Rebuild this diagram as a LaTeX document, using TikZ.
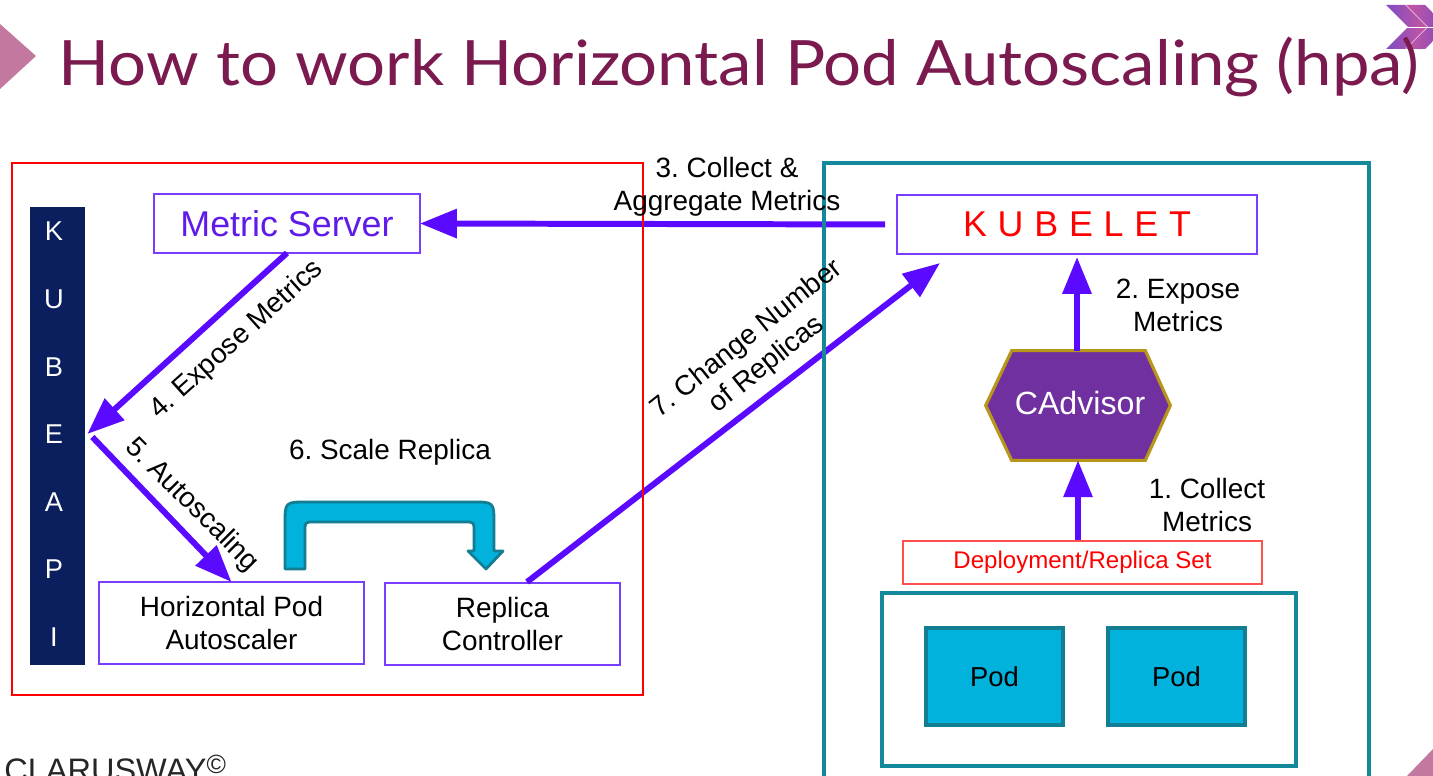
\documentclass[tikz,border=0pt]{standalone}
\usepackage{fontspec}
\setmainfont{Liberation Sans}
\newfontfamily\titlefont{Lato}
\usetikzlibrary{arrows.meta,calc}
\definecolor{titlec}{HTML}{7A1A4E}
\definecolor{pinkc}{HTML}{C2789F}
\definecolor{arrowc}{HTML}{5A0BFF}
\definecolor{boxc}{HTML}{7A3CFF}
\definecolor{mstext}{HTML}{5E1BEA}
\definecolor{tealc}{HTML}{15899C}
\definecolor{navyc}{HTML}{0B1F5E}
\definecolor{hexfill}{HTML}{7030A0}
\definecolor{hexdraw}{HTML}{B8961A}
\definecolor{podfill}{HTML}{00B2DC}
\definecolor{poddraw}{HTML}{137E92}
\definecolor{deplc}{HTML}{FF5050}
\definecolor{chevA}{HTML}{7E4CC4}
\definecolor{chevB}{HTML}{C8569E}
\frenchspacing
\tikzset{
  flow/.style={arrowc, line width=3.4pt, -{Triangle[length=21pt,width=16pt]}},
  boxp/.style={draw=boxc, line width=1.1pt, inner sep=0pt, outer sep=0pt, align=center},
  lbl/.style={font=\fontsize{15.9}{18.7}\selectfont, align=center, inner sep=0pt, text=black},
  apil/.style={text=white, font=\fontsize{15.5}{16}\selectfont, inner sep=0pt},
}
\begin{document}
\begin{tikzpicture}[x=0.02cm,y=-0.02cm]
\useasboundingbox (0,0) rectangle (1433,776);
\clip (0,0) rectangle (1433,776);
\fill[white] (0,0) rectangle (1433,776);

% decorations
\fill[pinkc] (0,24) -- (36,56) -- (0,89) -- cycle;
\fill[pinkc] (1407,776) -- (1433,749) -- (1433,776) -- cycle;
\shade[left color=chevA, right color=chevB] (1386,5) -- (1405,5) -- (1427,27) -- (1405,49) -- (1386,49) -- (1408,27) -- cycle;
\shade[left color=chevB, right color=chevA] (1406,5) -- (1425,5) -- (1447,27) -- (1425,49) -- (1406,49) -- (1428,27) -- cycle;
\draw[white, line width=0.6pt] (1392,27.5) -- (1433,27.5);

% title
\node[anchor=base west, inner sep=0pt, xscale=1.073, text=titlec, font=\titlefont\fontsize{35.6}{40}\selectfont] (title) at (58,86) {How to work Horizontal Pod Autoscaling (hpa)};
\node[anchor=base west, inner sep=0pt, text=black!85, font=\fontsize{18.5}{20}\selectfont] (brand) at (4,781) {CLARUSWAY\raisebox{0.22em}{\fontsize{15}{16}\selectfont ©}};

% left side
\node[fill=navyc, minimum width=1.1cm, minimum height=9.16cm, inner sep=0pt] (api) at (57.5,436) {};
\foreach \l/\yy [count=\i] in {K/231,U/299,B/367,E/434,A/502,P/569,I/637}
  \node[apil] (api\i) at (54,\yy) {\l};

\node[boxp, minimum width=5.32cm, minimum height=1.18cm, text=mstext, font=\fontsize{20.4}{22}\selectfont] (ms) at (287,223.5) {Metric Server};
\node[boxp, minimum width=5.3cm, minimum height=1.64cm, font=\fontsize{15.9}{18.7}\selectfont] (hpa) at (231.5,623) {Horizontal Pod\\Autoscaler};
\node[boxp, minimum width=4.7cm, minimum height=1.64cm, font=\fontsize{15.9}{18.7}\selectfont] (rc) at (502.5,624) {Replica\\Controller};

% right side
\node[boxp, minimum width=7.2cm, minimum height=1.18cm, text=red, font=\fontsize{20.4}{22}\selectfont\addfontfeature{LetterSpace=30}] (kub) at (1077,224.5) {KUBELET};
\node[inner sep=0pt, minimum width=3.68cm, minimum height=2.18cm] (cad) at (1078,405.5) {};
\draw[hexdraw, fill=hexfill, line width=1.8pt] (cad.west) -- ($(cad.north west)+(26,0)$) -- ($(cad.north east)+(-25,0)$) -- (cad.east) -- ($(cad.south east)+(-25,0)$) -- ($(cad.south west)+(26,0)$) -- cycle;
\node[text=white, font=\fontsize{18.3}{20}\selectfont, inner sep=0pt] (cadt) at (1080,403) {CAdvisor};
\node[draw=deplc, line width=0.9pt, minimum width=7.18cm, minimum height=0.86cm, inner sep=0pt, text=red, font=\fontsize{13.7}{15}\selectfont] (dep) at (1082.5,562.5) {Deployment/Replica Set};
\node[draw=tealc, line width=2.2pt, minimum width=8.28cm, minimum height=3.46cm, inner sep=0pt] (pods) at (1089,679.5) {};
\node[draw=poddraw, fill=podfill, line width=1.8pt, minimum width=2.74cm, minimum height=1.94cm, inner sep=0pt, font=\fontsize{15.6}{17}\selectfont] (pod1) at (994.5,676.5) {\raisebox{-0.2em}{Pod}};
\node[draw=poddraw, fill=podfill, line width=1.8pt, minimum width=2.74cm, minimum height=1.94cm, inner sep=0pt, font=\fontsize{15.6}{17}\selectfont] (pod2) at (1176.5,676.5) {Pod};

% U-turn arrow (6)
\draw[poddraw, fill=podfill, line width=1.6pt, line join=round]
  (285,569) -- (285,524) .. controls (285,502) .. (307,502) -- (472,502) .. controls (494,502) .. (494,524)
  -- (494,551) -- (503,551) -- (486,569) -- (468,551) -- (474,551) -- (474,531) .. controls (474,522) .. (465,522)
  -- (314,522) .. controls (305,522) .. (305,531) -- (305,569) -- cycle;

% coordinates
\coordinate (apitip) at ($(api.east)+(2,-2)$);
\coordinate (apiout) at ($(api.east)+(7,1)$);
\coordinate (rcout) at ($(rc.north)+(24.5,-1)$);
\coordinate (kubin) at ($(kub.south west)+(43,9)$);

% arrows
\draw[flow, shorten <=0.24cm] (kub.west) -- (ms.east);
\draw[flow, shorten >=0.06cm] (cad.north -| kub.south) -- (kub.south);
\draw[flow] (dep.north -| cad.south) -- (cad.south);
\draw[flow] (ms.south) -- (apitip);
\draw[flow] (apiout) -- (hpa.north);
\draw[flow] (rcout) -- (kubin);

% frames
\draw[red, line width=1pt] (12,163) rectangle (643,695);
\draw[tealc, line width=2.4pt] (824,163) rectangle (1369,800);

% labels
\node[lbl] (l3) at (727,187) {3. Collect \&\\Aggregate Metrics};
\node[lbl] (l2) at (1178,305) {2. Expose\\Metrics};
\node[lbl] (l1) at (1207,505) {1. Collect\\Metrics};
\node[lbl] (l6) at (390,452) {6. Scale Replica};
\node[lbl, rotate=42] (l4) at (237,340) {4. Expose Metrics};
\node[lbl, rotate=-45] (l5) at (192,505) {5. Autoscaling};
\node[lbl, rotate=38.6] (l7) at (757,352) {7. Change Number\\of Replicas};
\end{tikzpicture}
\end{document}
